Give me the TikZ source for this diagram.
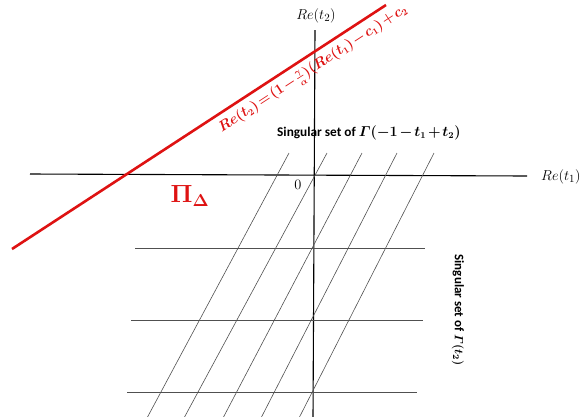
\documentclass[tikz,border=0pt]{standalone}
\usepackage{amsmath}
\usepackage{fontspec}
\newfontfamily\lblfont{Carlito}
\definecolor{redline}{RGB}{222,18,18}
\definecolor{gridgray}{RGB}{80,80,80}
\begin{document}
\begin{tikzpicture}[x=1pt,y=-1pt,
  axisline/.style={black,line width=1.1pt},
  slantline/.style={gridgray,line width=0.6pt},
  hline/.style={gridgray,line width=0.8pt},
  redl/.style={redline,line width=2.6pt},
  lbl/.style={font=\lblfont\bfseries\boldmath\fontsize{13}{15}\selectfont,inner sep=0pt},
  axlbl/.style={font=\fontsize{15}{17}\selectfont,inner sep=0pt}]
\useasboundingbox (0,0) rectangle (580,416);
\clip (0,0) rectangle (580,416);
% axes
\coordinate (xl) at (30,174);
\coordinate (xr) at (527,176);
\coordinate (yt) at (315,30);
\coordinate (yb) at (313,418);
\draw[axisline] (xl) -- (xr);
\draw[axisline] (yt) -- (yb);
% slanted family
\foreach \t/\b [count=\i] in {289/147,327/184,362/223,397/261,434/299}{
  \coordinate (st\i) at (\t,153);
  \coordinate (sb\i) at (\b,418);
  \draw[slantline] (st\i) -- (sb\i);
}
% horizontal family
\coordinate (h1l) at (135,248); \coordinate (h1r) at (425,248);
\coordinate (h2l) at (131,320); \coordinate (h2r) at (423,320);
\coordinate (h3l) at (127,392); \coordinate (h3r) at (417,392);
\draw[hline] (h1l) -- (h1r);
\draw[hline] (h2l) -- (h2r);
\draw[hline] (h3l) -- (h3r);
% red line
\coordinate (ra) at (12,249);
\coordinate (rb) at (386,5);
\draw[redl] (ra) -- (rb);
\path (ra) -- (rb) node[pos=0.785,sloped,anchor=north,inner sep=6pt,text=redline,
  font=\boldmath\fontsize{13.5}{16}\selectfont] (formula)
  {$\medmuskip=1.5mu\thickmuskip=2mu Re(t_2)=(1-\tfrac{\gamma}{\alpha})(Re(t_1)-c_1)+c_2$};
% labels
\node[axlbl] (ret2) at (316,16) {$Re(t_2)$};
\node[axlbl,anchor=west] (ret1) at (541,177) {$Re(t_1)$};
\node[axlbl] (zero) at (298,185) {$0$};
\node[lbl,font=\lblfont\bfseries\boldmath\fontsize{13.3}{16}\selectfont,anchor=west] (sing1) at (277,133) {Singular set of $\medmuskip=2mu\varGamma(-1-t_1+t_2)$};
\node[lbl,rotate=-90] (sing2) at (458,310) {Singular set of $\varGamma(t_2)$};
\node[text=redline,font=\boldmath\fontsize{27}{30}\selectfont,inner sep=0pt] (pi) at (190,196) {$\Pi_{\Delta}$};
\end{tikzpicture}
\end{document}
